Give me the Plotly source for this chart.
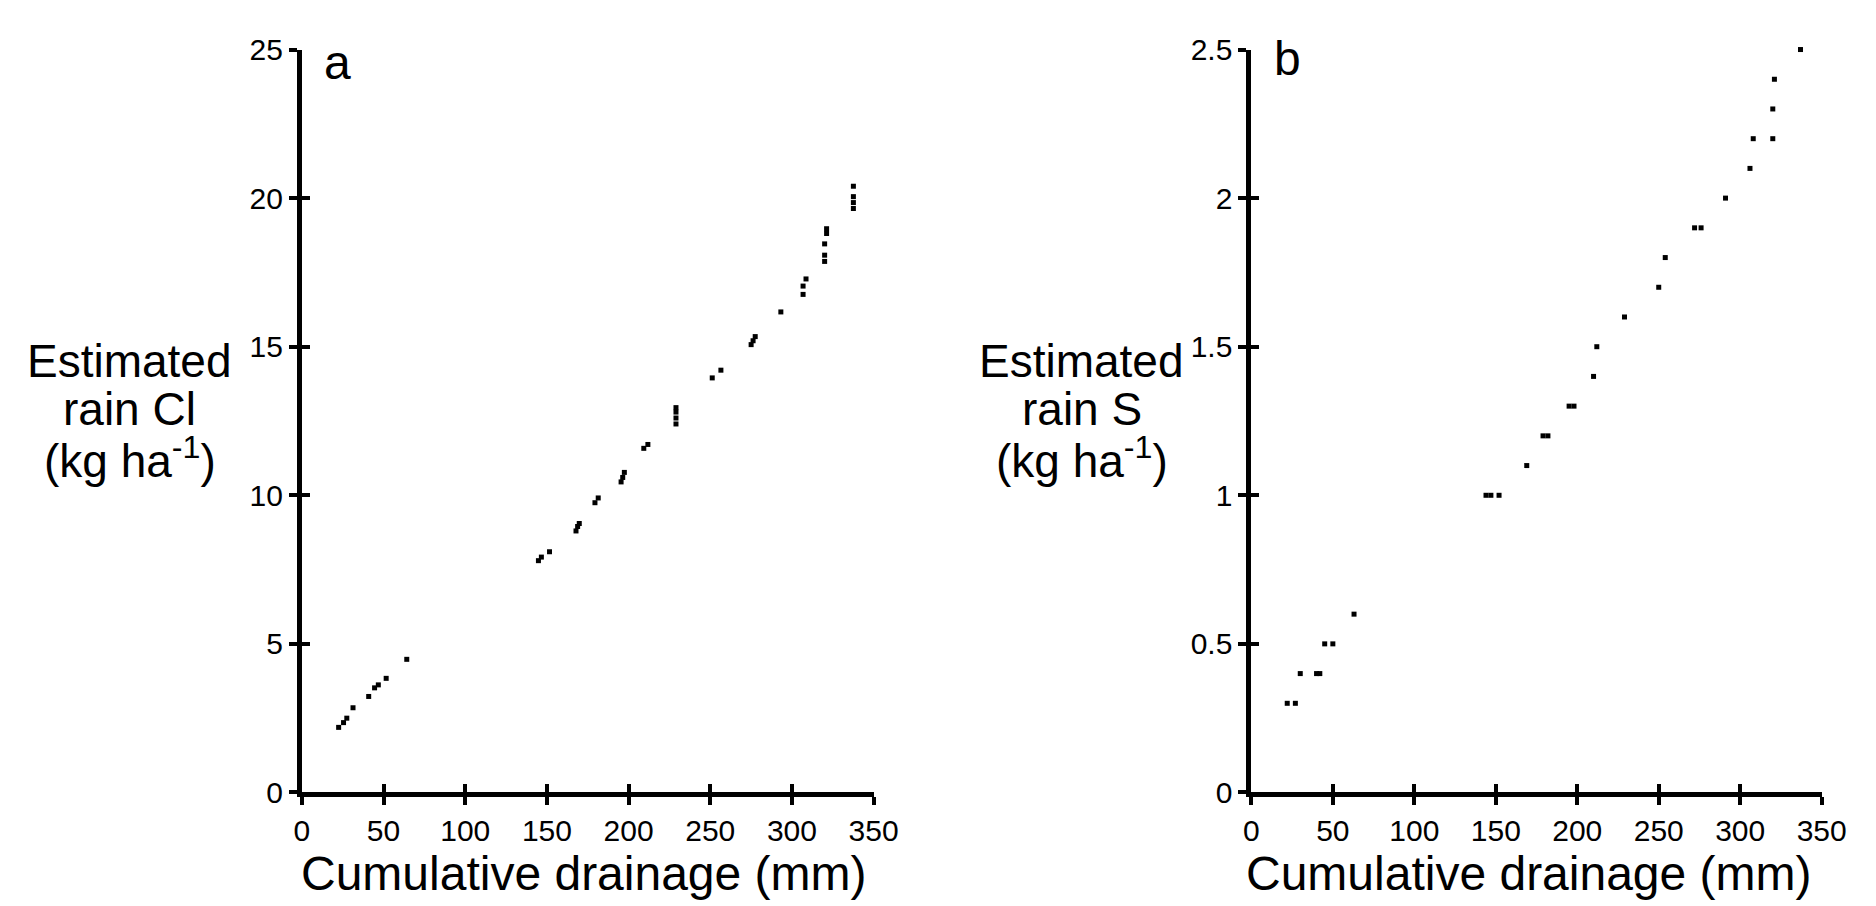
import plotly.graph_objects as go

# Panel a: estimated rain Cl
drain_a = [22.5, 25.5, 27.5, 31.3, 40.9, 44.5, 46.8, 51.6, 64.2,
           144.8, 146.6, 151.6, 167.8, 168.8, 169.8, 179.4, 181.4,
           195.4, 196.4, 197.4, 209.3, 211.8, 229, 229, 229, 229,
           251.2, 256.5, 275, 276.2, 277.5, 293.2, 306.8, 306.8, 308.6,
           320, 320, 320, 321.2, 321.2, 337.6, 337.6, 337.6, 337.6]
cl_a = [2.19, 2.35, 2.5, 2.85, 3.23, 3.52, 3.62, 3.84, 4.48,
        7.8, 7.92, 8.1, 8.8, 8.95, 9.05, 9.75, 9.91,
        10.45, 10.6, 10.77, 11.58, 11.71, 12.4, 12.6, 12.8, 12.95,
        13.95, 14.21, 15.07, 15.2, 15.34, 16.17, 16.76, 17.04, 17.28,
        17.87, 18.08, 18.46, 18.81, 18.97, 20.4, 20.05, 19.85, 19.65]

# Panel b: estimated rain S
drain_b = [22, 27, 30, 40, 42, 45, 50, 63, 144, 147, 152, 169, 179, 182,
           195, 198, 210, 212, 229, 250, 254, 272, 276, 291, 306, 308,
           320, 320, 321, 337]
s_b = [0.3, 0.3, 0.4, 0.4, 0.4, 0.5, 0.5, 0.6, 1.0, 1.0, 1.0, 1.1, 1.2, 1.2,
       1.3, 1.3, 1.4, 1.5, 1.6, 1.7, 1.8, 1.9, 1.9, 2.0, 2.1, 2.2,
       2.2, 2.3, 2.4, 2.5]

x_ticks = [0, 50, 100, 150, 200, 250, 300, 350]
y_ticks_a = [0, 5, 10, 15, 20, 25]
y_ticks_b = [0, 0.5, 1, 1.5, 2, 2.5]
y_ticktext_b = ["0", "0.5", "1", "1.5", "2", "2.5"]

FONT = "Liberation Sans, Arial, Helvetica, sans-serif"
W, H = 1876, 906

fig = go.Figure()
marker = dict(symbol="square", size=5, color="black", line=dict(width=0))
fig.add_trace(go.Scatter(x=drain_a, y=cl_a, mode="markers", marker=marker,
                         xaxis="x", yaxis="y", cliponaxis=False, showlegend=False,
                         hoverinfo="x+y"))
fig.add_trace(go.Scatter(x=drain_b, y=s_b, mode="markers", marker=marker,
                         xaxis="x2", yaxis="y2", cliponaxis=False, showlegend=False,
                         hoverinfo="x+y"))
# empty traces that carry the inner half of the crossing tick marks
fig.add_trace(go.Scatter(x=[], y=[], xaxis="x3", yaxis="y3", showlegend=False, hoverinfo="skip"))
fig.add_trace(go.Scatter(x=[], y=[], xaxis="x4", yaxis="y4", showlegend=False, hoverinfo="skip"))

ydom = [1 - 797.5 / H, 1 - 26.5 / H]
xa_dom = [291 / W, 873 / W]
xb_dom = [1257.5 / W, 1838 / W]

def xax(dom, anchor, inner=False, overlay=None):
    d = dict(domain=dom, anchor=anchor, range=[0, 350], tickvals=x_ticks,
             showgrid=False, zeroline=False, showline=not inner, linecolor="black",
             linewidth=5, ticks="inside" if inner else "outside", ticklen=8, tickwidth=4,
             tickcolor="black", showticklabels=not inner,
             tickfont=dict(family=FONT, size=30, color="black"), fixedrange=True)
    if overlay:
        d["overlaying"] = overlay
    return d

def yax(anchor, rng, tv, tt, inner=False, overlay=None):
    d = dict(domain=ydom, anchor=anchor, range=rng, tickvals=tv, ticktext=tt,
             showgrid=False, zeroline=False, showline=not inner, linecolor="black",
             linewidth=5, ticks="inside" if inner else "outside", ticklen=8, tickwidth=4,
             tickcolor="black", showticklabels=not inner,
             tickfont=dict(family=FONT, size=30, color="black"), fixedrange=True)
    if overlay:
        d["overlaying"] = overlay
    return d

fig.update_layout(
    width=W, height=H,
    margin=dict(l=0, r=0, t=0, b=0),
    paper_bgcolor="white", plot_bgcolor="white",
    xaxis=xax(xa_dom, "y"),
    yaxis=yax("x", [0, 25], y_ticks_a, [str(v) for v in y_ticks_a]),
    xaxis2=xax(xb_dom, "y2"),
    yaxis2=yax("x2", [0, 2.5], y_ticks_b, y_ticktext_b),
    xaxis3=xax(xa_dom, "y3", inner=True, overlay="x"),
    yaxis3=yax("x3", [0, 25], y_ticks_a, [str(v) for v in y_ticks_a], inner=True, overlay="y"),
    xaxis4=xax(xb_dom, "y4", inner=True, overlay="x2"),
    yaxis4=yax("x4", [0, 2.5], y_ticks_b, y_ticktext_b, inner=True, overlay="y2"),
)

ann = []
def txt(x, y, s, size, xanchor="center"):
    ann.append(dict(x=x / W, y=1 - y / H, xref="paper", yref="paper", text=s,
                    showarrow=False, xanchor=xanchor, yanchor="middle",
                    font=dict(family=FONT, size=size, color="black")))

# panel letters
txt(327, 40, "a", 48)
txt(1294, 36, "b", 48)
# x titles
txt(578, 882, "Cumulative drainage (mm)", 48)
txt(1540, 882, "Cumulative drainage (mm)", 48)
# y titles
for cx, lines in [(116, ["Estimated", "rain Cl", "(kg ha<sup>-1</sup>)"]),
                  (1085, ["Estimated", "rain S", "(kg ha<sup>-1</sup>)"])]:
    for i, s in enumerate(lines):
        txt(cx, 350 + i * 50, s, 46)

fig.update_layout(annotations=ann)
fig.write_html("out.html")
